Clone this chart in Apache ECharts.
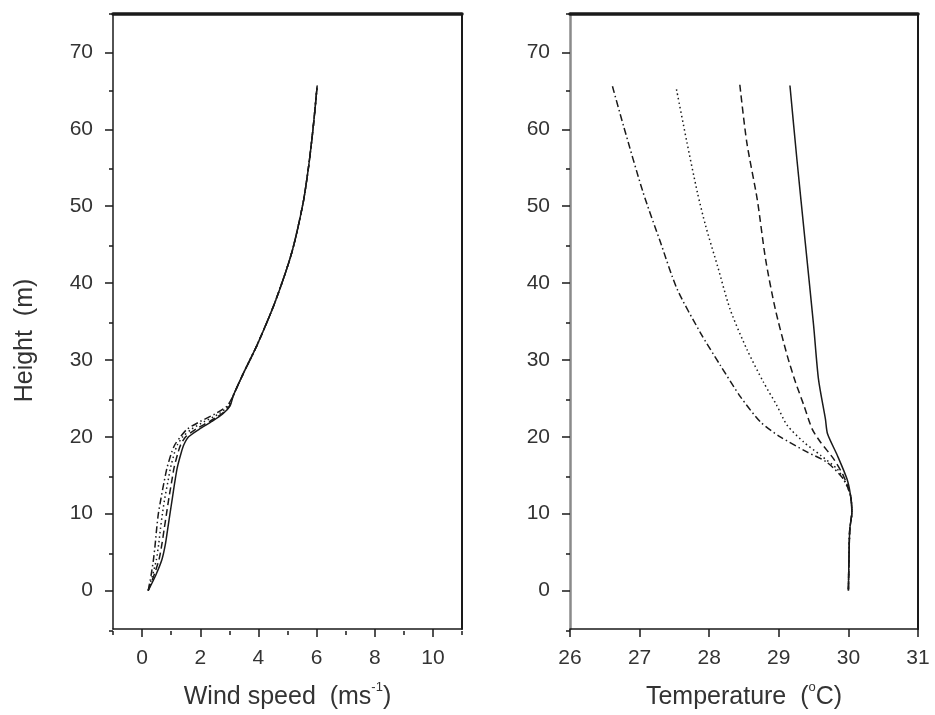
<!DOCTYPE html>
<html>
<head>
<meta charset="utf-8">
<script src="https://cdn.jsdelivr.net/npm/echarts@6/dist/echarts.min.js"></script>
<style>
  html, body { margin: 0; background: #fff; }
  #chart { width: 935px; height: 715px; }
</style>
</head>
<body>
<div id="chart"></div>
<script>
// left panel: wind speed profiles, shared heights (m)
const windHeights = [0, 2, 4, 6, 8, 10, 12, 14, 16, 18, 19, 20, 21, 22, 23, 24, 25.4, 28, 31.9, 37.5, 44, 50.5, 55, 59.1, 62, 65.7]
const windSolid   = [0.21, 0.47, 0.68, 0.80, 0.88, 0.96, 1.04, 1.12, 1.21, 1.35, 1.44, 1.60, 1.97, 2.40, 2.78, 3.02, 3.14, 3.45, 3.95, 4.57, 5.15, 5.54, 5.72, 5.85, 5.93, 6.02]
const windDashed  = [0.21, 0.41, 0.58, 0.68, 0.76, 0.84, 0.92, 1.01, 1.10, 1.24, 1.33, 1.50, 1.85, 2.32, 2.74, 3.00, 3.14, 3.45, 3.95, 4.57, 5.15, 5.54, 5.72, 5.85, 5.93, 6.02]
const windDotted  = [0.21, 0.36, 0.49, 0.57, 0.63, 0.70, 0.78, 0.88, 0.98, 1.12, 1.22, 1.40, 1.70, 2.15, 2.65, 2.96, 3.14, 3.45, 3.95, 4.57, 5.15, 5.54, 5.72, 5.85, 5.93, 6.02]
const windDashDot = [0.21, 0.31, 0.39, 0.45, 0.50, 0.56, 0.65, 0.75, 0.86, 1.02, 1.13, 1.32, 1.55, 2.00, 2.52, 2.92, 3.14, 3.45, 3.95, 4.57, 5.15, 5.54, 5.72, 5.85, 5.93, 6.02]

// right panel: temperature profiles as [temperature °C, height m]
const tempSolid = [[29.16, 65.7], [29.26, 56.1], [29.38, 45.3], [29.50, 34.5], [29.57, 27.5], [29.67, 22.3], [29.70, 20.4], [29.84, 17.6], [29.98, 14.5], [30.03, 12.4], [30.05, 10.2], [30.02, 8], [30.01, 5], [30.0, 0]]
const tempDashed = [[28.44, 65.8], [28.54, 58.3], [28.69, 50.9], [28.81, 43.1], [28.95, 36.6], [29.12, 30.6], [29.24, 27.1], [29.36, 24.1], [29.48, 21.0], [29.60, 19.3], [29.79, 17.1], [29.93, 14.9], [30.03, 12.4], [30.05, 10.2], [30.02, 8], [30.01, 5], [30.0, 0]]
const tempDotted = [[27.53, 65.2], [27.68, 58.3], [27.83, 51.8], [27.95, 47.4], [28.12, 42.2], [28.30, 36.6], [28.54, 31.4], [28.78, 27.1], [28.97, 24.1], [29.12, 21.5], [29.36, 19.3], [29.60, 17.6], [29.84, 15.8], [29.93, 14.5], [30.03, 12.4], [30.05, 10.2], [30.02, 8], [30.01, 5], [30.0, 0]]
const tempDashDot = [[26.61, 65.6], [26.77, 60.4], [27.05, 51.8], [27.30, 45.3], [27.54, 39.2], [27.87, 33.6], [28.16, 29.3], [28.45, 25.2], [28.74, 21.9], [29.02, 20.0], [29.41, 18.0], [29.69, 16.7], [29.93, 14.5], [30.03, 12.4], [30.05, 10.2], [30.02, 8], [30.01, 5], [30.0, 0]]

// tick labels
const heightTicks = [0, 10, 20, 30, 40, 50, 60, 70]
const windTicks = [0, 2, 4, 6, 8, 10]

const ink = '#1a1a1a'
const labelColor = '#333'
const font = "'Liberation Sans', Arial, sans-serif"
const lineTypes = {
  solid: 'solid',
  dashed: [7, 4],
  dotted: [1.5, 3],
  dashDot: [7, 3, 1.5, 3],
}

const chart = echarts.init(document.getElementById('chart'))

const leftBox = { left: 113, right: 473, top: 14, bottom: 84 }
const rightBox = { left: 570, right: 17, top: 14, bottom: 84 }

const tickLabel = { color: labelColor, fontSize: 21, fontFamily: font }
const nameStyle = {
  color: labelColor,
  fontSize: 25,
  fontFamily: font,
  rich: {
    sup: { fontSize: 13, color: labelColor, fontFamily: font, padding: [0, 0, 20, 0] },
  },
}
const tickStyle = { color: ink, width: 1.5 }

function lineSeries(data, type, xi, yi) {
  return {
    type: 'line',
    data,
    xAxisIndex: xi,
    yAxisIndex: yi,
    showSymbol: false,
    symbol: 'none',
    smooth: 0.25,
    lineStyle: { color: ink, width: 1.5, type },
  }
}

const frameOnly = (gridIndex, position, width) => ({
  gridIndex,
  position,
  type: 'value',
  axisLine: { show: true, onZero: false, lineStyle: { color: ink, width } },
  axisTick: { show: false },
  axisLabel: { show: false },
  splitLine: { show: false },
})

const minorAxis = (gridIndex, position, min, max, interval) => ({
  gridIndex,
  position,
  type: 'value',
  min,
  max,
  interval,
  axisLine: { show: false, onZero: false },
  axisTick: { length: 4, lineStyle: tickStyle },
  axisLabel: { show: false },
  splitLine: { show: false },
})

chart.setOption({
  animation: false,
  backgroundColor: '#fff',
  grid: [leftBox, leftBox, rightBox, rightBox],
  xAxis: [
    {
      gridIndex: 0,
      type: 'value',
      position: 'bottom',
      min: -1,
      max: 11,
      name: 'Wind speed  (ms{sup|-1})',
      nameLocation: 'middle',
      nameGap: 52,
      nameTextStyle: nameStyle,
      axisLine: { onZero: false, lineStyle: { color: ink, width: 1.5 } },
      axisTick: { customValues: windTicks, length: 8, lineStyle: tickStyle },
      axisLabel: { customValues: windTicks, margin: 19, ...tickLabel },
      splitLine: { show: false },
    },
    { ...frameOnly(0, 'top', 3.5), min: -1, max: 11 },
    minorAxis(1, 'bottom', -1, 11, 2),
    {
      gridIndex: 2,
      type: 'value',
      position: 'bottom',
      min: 26,
      max: 31,
      interval: 1,
      name: 'Temperature  ({sup|o}C)',
      nameLocation: 'middle',
      nameGap: 52,
      nameTextStyle: nameStyle,
      axisLine: { onZero: false, lineStyle: { color: ink, width: 1.5 } },
      axisTick: { length: 8, lineStyle: tickStyle },
      axisLabel: { margin: 19, ...tickLabel },
      splitLine: { show: false },
    },
    { ...frameOnly(2, 'top', 3.5), min: 26, max: 31 },
    { gridIndex: 3, type: 'value', min: 26, max: 31, show: false },
  ],
  yAxis: [
    {
      gridIndex: 0,
      type: 'value',
      position: 'left',
      min: -5,
      max: 75,
      name: 'Height  (m)',
      nameLocation: 'middle',
      nameGap: 75,
      nameTextStyle: { ...nameStyle, padding: [0, 38, 0, 0] },
      axisLine: { onZero: false, lineStyle: { color: ink, width: 1.5 } },
      axisTick: { customValues: heightTicks, length: 8, lineStyle: tickStyle },
      axisLabel: { customValues: heightTicks, margin: 20, ...tickLabel },
      splitLine: { show: false },
    },
    { ...frameOnly(0, 'right', 2), min: -5, max: 75 },
    minorAxis(1, 'left', -5, 75, 10),
    {
      gridIndex: 2,
      type: 'value',
      position: 'left',
      min: -5,
      max: 75,
      axisLine: { onZero: false, lineStyle: { color: '#8a8a8a', width: 2.5 } },
      axisTick: { customValues: heightTicks, length: 8, lineStyle: tickStyle },
      axisLabel: { customValues: heightTicks, margin: 20, ...tickLabel },
      splitLine: { show: false },
    },
    { ...frameOnly(2, 'right', 2), min: -5, max: 75 },
    minorAxis(3, 'left', -5, 75, 10),
  ],
  series: [
    lineSeries(windHeights.map((h, i) => [windSolid[i], h]), lineTypes.solid, 0, 0),
    lineSeries(windHeights.map((h, i) => [windDashed[i], h]), lineTypes.dashed, 0, 0),
    lineSeries(windHeights.map((h, i) => [windDotted[i], h]), lineTypes.dotted, 0, 0),
    lineSeries(windHeights.map((h, i) => [windDashDot[i], h]), lineTypes.dashDot, 0, 0),
    lineSeries(tempSolid, lineTypes.solid, 3, 3),
    lineSeries(tempDashed, lineTypes.dashed, 3, 3),
    lineSeries(tempDotted, lineTypes.dotted, 3, 3),
    lineSeries(tempDashDot, lineTypes.dashDot, 3, 3),
  ],
})
</script>
</body>
</html>
